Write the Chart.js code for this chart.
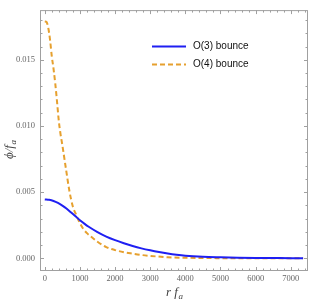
<!DOCTYPE html>
<html>
<head>
<meta charset="utf-8">
<script src="https://cdn.jsdelivr.net/npm/chart.js@4/dist/chart.umd.min.js"></script>
<style>
  html, body { margin: 0; padding: 0; background: #fff; }
  #wrap { width: 313px; height: 302px; }
</style>
</head>
<body>
<div id="wrap"><canvas id="c" width="313" height="302"></canvas></div>
<script>
// r f_a sample points for each curve
const rO3 = [0, 125, 250, 375, 500, 625, 750, 875, 1000, 1125, 1250, 1500, 1750, 2000,
  2250, 2500, 2750, 3000, 3250, 3500, 3750, 4000, 4500, 5000, 5500, 6000, 6500, 7000, 7350];
const phiO3 = [0.00445, 0.00442, 0.00433, 0.00418, 0.00398, 0.00374, 0.00346, 0.00317,
  0.00288, 0.00262, 0.00238, 0.00198, 0.00164, 0.00137, 0.00114, 0.00093, 0.00075,
  0.00060, 0.00047, 0.00036, 0.00027, 0.00020, 0.00012, 0.00008, 0.00005, 0.00003,
  0.00002, 0.00001, 0.00001];

const rO4 = [0, 50, 100, 150, 200, 250, 300, 350, 400, 450, 500, 600, 700, 800, 900,
  1000, 1100, 1200, 1300, 1500, 1750, 2000, 2250, 2500, 2750, 3000, 3500, 4000, 5000,
  6000, 7350];
const phiO4 = [0.01790, 0.01785, 0.01740, 0.01650, 0.01525, 0.01430, 0.01315, 0.01180,
  0.01035, 0.00935, 0.00855, 0.00680, 0.00510, 0.00390, 0.00325, 0.00265, 0.00220,
  0.00190, 0.00167, 0.00125, 0.00085, 0.00062, 0.00046, 0.00035, 0.00025, 0.00018,
  0.00008, 0.00004, 0.00001, 0.0, 0.0];

const seriesNames = ['O(3) bounce', 'O(4) bounce'];
const xTicks = [0, 1000, 2000, 3000, 4000, 5000, 6000, 7000];
const yTicks = [0, 0.005, 0.010, 0.015];
const yTickLabels = ['0.000', '0.005', '0.010', '0.015'];

const toPts = (xs, ys) => xs.map((x, i) => ({ x: x, y: ys[i] }));

const frameColor = '#a0a0a0';
const tickFont = { family: 'Liberation Serif', size: 8.5 };

// Mathematica-style frame with inward ticks, axis titles and inset legend
const framePlugin = {
  id: 'frame',
  beforeDatasetsDraw(chart) {
    const { ctx, chartArea: a, scales } = chart;
    const xs = scales.x, ys = scales.y;
    ctx.save();
    ctx.strokeStyle = frameColor;
    ctx.lineWidth = 1;
    ctx.strokeRect(a.left + 0.5, a.top + 0.5, a.right - a.left - 1, a.bottom - a.top - 1);
    ctx.beginPath();
    for (let v = 0; v <= 7400; v += 200) {
      const px = Math.round(xs.getPixelForValue(v)) + 0.5;
      const len = v % 1000 === 0 ? 4 : 2.5;
      ctx.moveTo(px, a.bottom); ctx.lineTo(px, a.bottom - len);
      ctx.moveTo(px, a.top); ctx.lineTo(px, a.top + len);
    }
    for (let k = 0; k <= 18; k++) {
      const py = Math.round(ys.getPixelForValue(k * 0.001)) + 0.5;
      const len = k % 5 === 0 ? 4 : 2.5;
      ctx.moveTo(a.left, py); ctx.lineTo(a.left + len, py);
      ctx.moveTo(a.right, py); ctx.lineTo(a.right - len, py);
    }
    ctx.stroke();
    ctx.restore();
  },
  afterDraw(chart) {
    const { ctx, chartArea: a } = chart;
    ctx.save();
    ctx.fillStyle = '#444';
    // x title: r f_a
    const cx = (a.left + a.right) / 2;
    ctx.font = 'italic 13px "Liberation Serif"';
    ctx.textBaseline = 'alphabetic';
    ctx.textAlign = 'left';
    const main = 'r f';
    const w = ctx.measureText(main).width;
    ctx.fillText(main, cx - 8, 296);
    ctx.font = 'italic 9px "Liberation Serif"';
    ctx.fillText('a', cx - 8 + w + 0.5, 299);
    // y title: phi / f_a
    ctx.translate(13, 147);
    ctx.rotate(-Math.PI / 2);
    ctx.font = 'italic 13px "Liberation Serif"';
    const m2 = '\u03d5/f';
    const w2 = ctx.measureText(m2).width;
    ctx.fillText(m2, -12, 0);
    ctx.font = 'italic 9px "Liberation Serif"';
    ctx.fillText('a', -12 + w2 + 0.5, 3);
    ctx.restore();

    // legend
    ctx.save();
    ctx.font = '10px "Liberation Sans"';
    ctx.textBaseline = 'middle';
    ctx.fillStyle = '#111';
    chart.data.datasets.forEach((ds, i) => {
      const y = 46.5 + i * 18;
      ctx.strokeStyle = ds.borderColor;
      ctx.lineWidth = ds.borderWidth;
      ctx.setLineDash(ds.borderDash || []);
      ctx.beginPath();
      ctx.moveTo(152, y); ctx.lineTo(186, y);
      ctx.stroke();
      ctx.setLineDash([]);
      ctx.fillText(ds.label, 193, y);
    });
    ctx.restore();
  }
};

new Chart(document.getElementById('c'), {
  type: 'line',
  data: {
    datasets: [
      {
        label: seriesNames[0],
        data: toPts(rO3, phiO3),
        borderColor: '#1f1ff2',
        borderWidth: 2,
        pointRadius: 0,
        cubicInterpolationMode: 'monotone',
        fill: false
      },
      {
        label: seriesNames[1],
        data: toPts(rO4, phiO4),
        borderColor: '#e6a02e',
        borderWidth: 2,
        borderDash: [5, 3],
        pointRadius: 0,
        cubicInterpolationMode: 'monotone',
        fill: false
      }
    ]
  },
  options: {
    responsive: false,
    animation: false,
    layout: { padding: { left: 0, right: 5, top: 3, bottom: 0 } },
    plugins: { legend: { display: false }, tooltip: { enabled: false } },
    scales: {
      x: {
        type: 'linear',
        min: -136,
        max: 7490,
        grid: { display: false, drawTicks: false },
        border: { display: false },
        afterBuildTicks: s => { s.ticks = xTicks.map(v => ({ value: v })); },
        afterFit: s => { s.height = 31; },
        ticks: { font: tickFont, color: '#666', padding: 3, maxRotation: 0, callback: v => String(v) }
      },
      y: {
        type: 'linear',
        min: -0.00096,
        max: 0.01875,
        grid: { display: false, drawTicks: false },
        border: { display: false },
        afterBuildTicks: s => { s.ticks = yTicks.map(v => ({ value: v })); },
        afterFit: s => { s.width = 40; },
        ticks: {
          font: tickFont, color: '#666', padding: 5,
          callback: (v) => yTickLabels[yTicks.findIndex(t => Math.abs(t - v) < 1e-9)]
        }
      }
    }
  },
  plugins: [framePlugin]
});
</script>
</body>
</html>
